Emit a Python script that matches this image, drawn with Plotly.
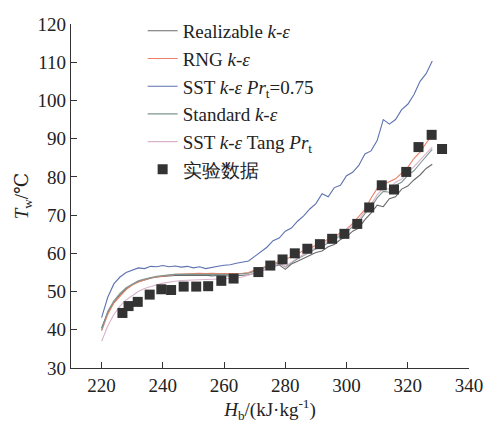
import plotly.graph_objects as go

# Simulation sample positions (kJ/kg)
h_sim = [220, 222, 224, 226, 228, 230, 232, 234, 236, 238, 240, 242, 244, 246, 248,
         250, 252, 254, 256, 258, 260, 262, 264, 266, 268, 270, 272, 274, 276, 278,
         280, 282, 284, 286, 288, 290, 292, 294, 296, 298, 300, 302, 304, 306, 308,
         310, 312, 314, 316, 318, 320, 322, 324, 326, 328]

t_realizable = [40.5, 44.5, 47.2, 49.2, 50.7, 51.8, 52.6, 53.1, 53.5, 53.8, 54.0, 54.1, 54.2, 54.3, 54.2,
                54.3, 54.2, 54.3, 54.1, 54.2, 54.2, 54.0, 54.1, 54.2, 54.4, 54.8, 55.4, 55.9, 56.4, 57.0,
                55.8, 57.2, 57.9, 58.7, 59.4, 60.2, 60.6, 61.7, 62.3, 63.6, 64.3, 65.8, 66.6, 68.8, 70.5,
                72.6, 72.2, 74.3, 74.8, 76.8, 77.6, 79.2, 80.5, 82.2, 83.3]

t_rng = [39.7, 44.0, 47.0, 48.8, 50.5, 51.7, 52.5, 53.0, 53.6, 53.8, 54.1, 54.3, 54.5, 54.6, 54.7,
         54.7, 54.8, 54.7, 54.8, 54.7, 54.7, 54.6, 54.7, 54.8, 55.0, 55.6, 56.0, 56.8, 57.2, 57.9,
         58.3, 59.2, 59.8, 60.8, 61.2, 62.2, 62.6, 63.8, 64.3, 65.4, 66.3, 67.8, 69.6, 71.5, 74.4,
         77.0, 78.0, 78.8, 79.5, 81.0, 82.5, 84.8, 86.5, 88.8, 91.0]

t_sst075 = [43.2, 48.5, 52.0, 53.8, 55.0, 55.5, 56.2, 56.0, 56.6, 56.5, 56.8, 56.5, 56.7, 56.4, 56.6,
            56.2, 56.5, 56.0, 56.4, 56.6, 56.9, 57.0, 57.4, 57.8, 58.0, 59.2, 60.5, 61.6, 63.3, 64.0,
            65.8, 66.6, 68.4, 69.8, 71.6, 73.0, 75.6, 74.8, 77.2, 77.8, 80.3, 81.2, 83.0, 86.0, 86.8,
            89.5, 95.0, 93.8, 95.0, 97.6, 99.0, 101.5, 105.0, 107.0, 110.3]

t_standard = [40.0, 44.8, 47.6, 49.5, 51.0, 52.0, 52.8, 53.3, 53.7, 54.0, 54.2, 54.4, 54.5, 54.5, 54.5,
              54.6, 54.5, 54.6, 54.5, 54.5, 54.5, 54.4, 54.5, 54.6, 54.8, 55.3, 55.8, 56.4, 56.9, 57.5,
              56.4, 57.6, 58.6, 59.4, 60.4, 61.2, 61.6, 62.8, 63.4, 64.7, 65.5, 67.0, 68.2, 70.4, 72.0,
              74.5, 76.2, 76.0, 77.8, 78.6, 80.4, 81.6, 83.5, 85.4, 87.2]

t_sst_tang = [37.0, 41.0, 44.0, 46.2, 47.8, 49.0, 50.0, 50.8, 51.4, 51.8, 52.2, 52.5, 52.7, 52.9, 53.0,
              53.1, 53.1, 53.2, 53.2, 53.3, 53.3, 53.4, 53.6, 53.8, 54.2, 54.8, 55.4, 56.0, 56.6, 57.3,
              56.6, 57.8, 58.8, 59.7, 60.6, 61.5, 62.0, 63.2, 63.8, 65.0, 66.0, 67.4, 68.8, 71.0, 72.8,
              75.3, 77.0, 76.8, 78.6, 79.4, 81.2, 82.6, 84.4, 86.0, 87.8]

# Experimental data
h_exp = [226.8, 228.8, 231.8, 235.7, 239.5, 242.7, 246.8, 250.9, 254.8, 259.1, 263.1, 271.2, 275.1, 279.1,
         283.1, 287.2, 291.3, 295.3, 299.3, 303.5, 307.4, 311.5, 315.5, 319.5, 323.5, 327.8, 331.2]
t_exp = [44.4, 46.2, 47.3, 49.2, 50.6, 50.4, 51.3, 51.3, 51.4, 52.8, 53.4, 55.1, 56.8, 58.4,
         60.0, 61.2, 62.4, 63.8, 65.1, 67.7, 72.0, 77.8, 76.7, 81.3, 87.8, 91.0, 87.3]

x_ticks = [220, 240, 260, 280, 300, 320, 340]
y_ticks = [30, 40, 50, 60, 70, 80, 90, 100, 110, 120]

FONT = "Times New Roman, DejaVu Serif, serif"
TICKFONT = dict(family=FONT, size=19, color="#222222")

fig = go.Figure()
series = [
    ("Realizable <i>k</i>-<i>ε</i>", t_realizable, "#6a6a6a"),
    ("RNG <i>k</i>-<i>ε</i>", t_rng, "#ec8068"),
    ("SST <i>k</i>-<i>ε</i> <i>Pr</i><sub>t</sub>=0.75", t_sst075, "#5d72b0"),
    ("Standard <i>k</i>-<i>ε</i>", t_standard, "#7d9690"),
    ("SST <i>k</i>-<i>ε</i> Tang <i>Pr</i><sub>t</sub>", t_sst_tang, "#d9b3cc"),
]
for name, ys, col in series:
    fig.add_trace(go.Scatter(x=h_sim, y=ys, mode="lines", name=name,
                             line=dict(color=col, width=1.1)))
fig.add_trace(go.Scatter(x=h_exp, y=t_exp, mode="markers", name="实验数据",
                         marker=dict(symbol="square", size=10, color="#333333",
                                     line=dict(width=0))))

fig.update_layout(
    width=495, height=428,
    margin=dict(l=71, r=15, t=17, b=60),
    paper_bgcolor="white", plot_bgcolor="white",
    font=dict(family=FONT, size=19, color="#222222"),
    showlegend=True,
    legend=dict(x=0.18, y=1.035, xanchor="left", yanchor="top",
                bgcolor="rgba(0,0,0,0)", font=dict(size=19, family=FONT),
                tracegroupgap=0, itemwidth=30),
)
fig.update_xaxes(range=[210, 340], tickvals=x_ticks, ticks="inside", ticklen=6,
                 showline=True, linecolor="#333333", linewidth=1.2, showgrid=False,
                 zeroline=False, tickcolor="#333333", tickfont=TICKFONT,
                 title=dict(text="<i>H</i><sub>b</sub>/(kJ·kg<sup>-1</sup>)", standoff=4,
                            font=dict(size=19, family=FONT)))
fig.update_yaxes(range=[30, 120], tickvals=y_ticks, ticks="inside", ticklen=6,
                 showline=True, linecolor="#333333", linewidth=1.2, showgrid=False,
                 zeroline=False, tickcolor="#333333", tickfont=TICKFONT,
                 title=dict(text="<i>T</i><sub>w</sub>/℃", standoff=3,
                            font=dict(size=19, family=FONT)))

fig.write_html("out.html")
